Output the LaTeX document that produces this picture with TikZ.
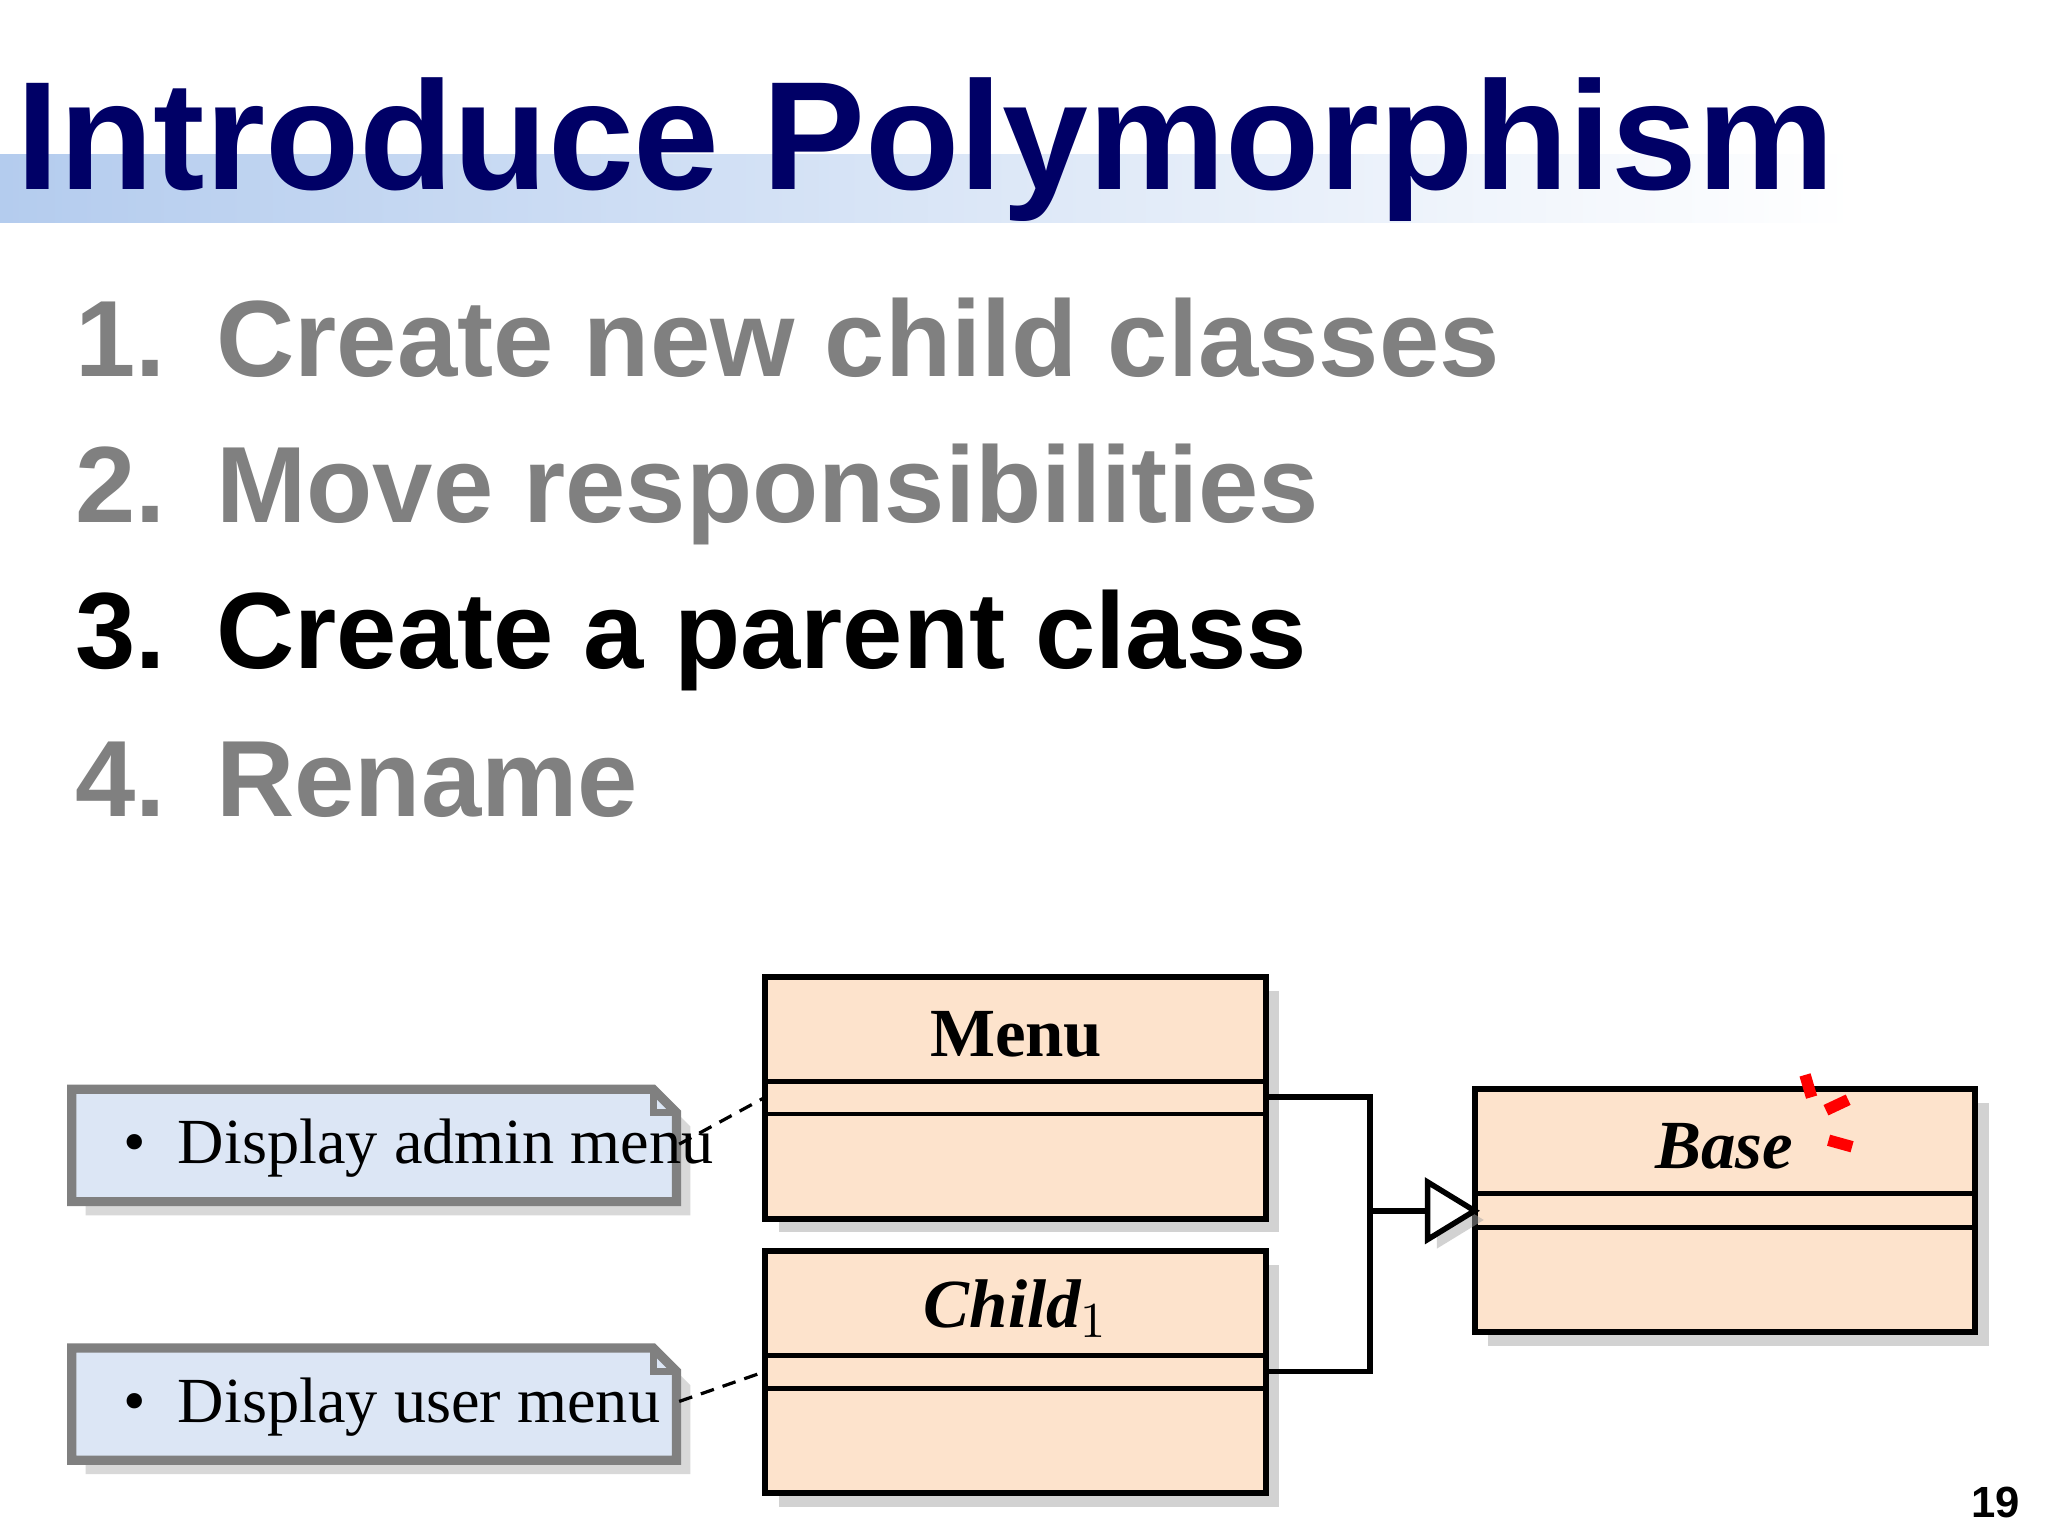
\documentclass[tikz,border=0pt]{standalone}
\usepackage{fontspec}
\setmainfont{Liberation Serif}
\setsansfont{Liberation Sans}
\usetikzlibrary{shadows}
\definecolor{navy}{HTML}{000066}
\definecolor{peach}{HTML}{FDE3CC}
\definecolor{noteblue}{HTML}{DCE6F5}
\definecolor{band}{HTML}{B4CCEE}
\tikzset{
  cls/.style={draw=black, line width=1.3pt, fill=peach, drop shadow={shadow xshift=3pt,shadow yshift=-3pt,fill=black!35}},
  sep/.style={line width=1pt},
  note/.style={draw=black!50, line width=2pt, fill=noteblue},
  item/.style={anchor=base west, font=\sffamily\bfseries\fontsize{23.6}{28}\selectfont, text=black!50, inner sep=0},
  conn/.style={line width=1.2pt},
}
\begin{document}
\begin{tikzpicture}[x=0.01cm,y=-0.01cm]
\useasboundingbox (0,0) rectangle (1568,1176);
\fill[white] (0,0) rectangle (1568,1176);
% title band
\shade[left color=band, right color=white] (0,118) rectangle (1420,170);
\node[anchor=base west, inner sep=0, font=\sffamily\bfseries\fontsize{33.6}{40}\selectfont, text=navy] (title) at (12,145) {Introduce Polymorphism};
% list
\node[item] (n1) at (57,288) {1.};
\node[item] (t1) at (165,288) {Create new child classes};
\node[item] (n2) at (57,400) {2.};
\node[item] (t2) at (165,400) {Move responsibilities};
\node[item, text=black] (n3) at (57,512) {3.};
\node[item, text=black] (t3) at (165,512) {Create a parent class};
\node[item] (n4) at (57,625) {4.};
\node[item] (t4) at (165,625) {Rename};
% classes
\draw[cls] (586,748) rectangle (969,933);
\draw[sep] (586,828) -- (969,828) (586,853) -- (969,853);
\node[font=\bfseries\fontsize{15}{18}\selectfont] (menu) at (778,792) {Menu};
\draw[cls] (586,958) rectangle (969,1143);
\draw[sep] (586,1038) -- (969,1038) (586,1063) -- (969,1063);
\node[font=\bfseries\itshape\fontsize{15}{18}\selectfont] (child) at (778,1002) {Child$_1$};
\draw[cls] (1129,834) rectangle (1512,1020);
\draw[sep] (1129,914) -- (1512,914) (1129,940) -- (1512,940);
\node[font=\bfseries\itshape\fontsize{15}{18}\selectfont] (base) at (1320,878) {Base};
% red marks
\draw[red, line width=2.5pt] (1382,823) -- (1387,840) (1398,850) -- (1415,842) (1400,873) -- (1418,878);
% connectors
\coordinate (mr) at (969,840); \coordinate (cr) at (969,1050);
\coordinate (j1) at (1049,840); \coordinate (j2) at (1049,1050); \coordinate (jm) at (1049,927);
\coordinate (tb) at (1093,927); \coordinate (tip) at (1129,927);
\draw[conn] (mr) -- (j1) -- (j2) -- (cr);
\draw[conn] (jm) -- (tb);
\draw[conn, fill=white, drop shadow={shadow xshift=2pt,shadow yshift=-2pt,fill=black!35}] (1093,905) -- (tip) -- (1093,949) -- cycle;
% notes
\draw[note, drop shadow={shadow xshift=3pt,shadow yshift=-3pt,fill=black!30}] (55,834) -- (500,834) -- (518,852) -- (518,920) -- (55,920) -- cycle;
\draw[black!50, line width=1.5pt] (500,834) -- (500,852) -- (518,852);
\node[anchor=west, font=\fontsize{14}{17}\selectfont] (note1) at (82,879) {\textbullet\ \ Display admin menu};
\draw[note, drop shadow={shadow xshift=3pt,shadow yshift=-3pt,fill=black!30}] (55,1032) -- (500,1032) -- (518,1050) -- (518,1118) -- (55,1118) -- cycle;
\draw[black!50, line width=1.5pt] (500,1032) -- (500,1050) -- (518,1050);
\node[anchor=west, font=\fontsize{14}{17}\selectfont] (note2) at (82,1077) {\textbullet\ \ Display user menu};
\coordinate (a1) at (520,876); \coordinate (b1) at (586,840);
\coordinate (a2) at (520,1073); \coordinate (b2) at (586,1050);
\draw[dashed, line width=0.7pt, dash pattern=on 3pt off 2pt] (a1) -- (b1);
\draw[dashed, line width=0.7pt, dash pattern=on 3pt off 2pt] (a2) -- (b2);
% page number
\node[anchor=base east, inner sep=0, font=\sffamily\bfseries\fontsize{9.5}{11}\selectfont] (pg) at (1547,1162) {19};
\end{tikzpicture}
\end{document}
